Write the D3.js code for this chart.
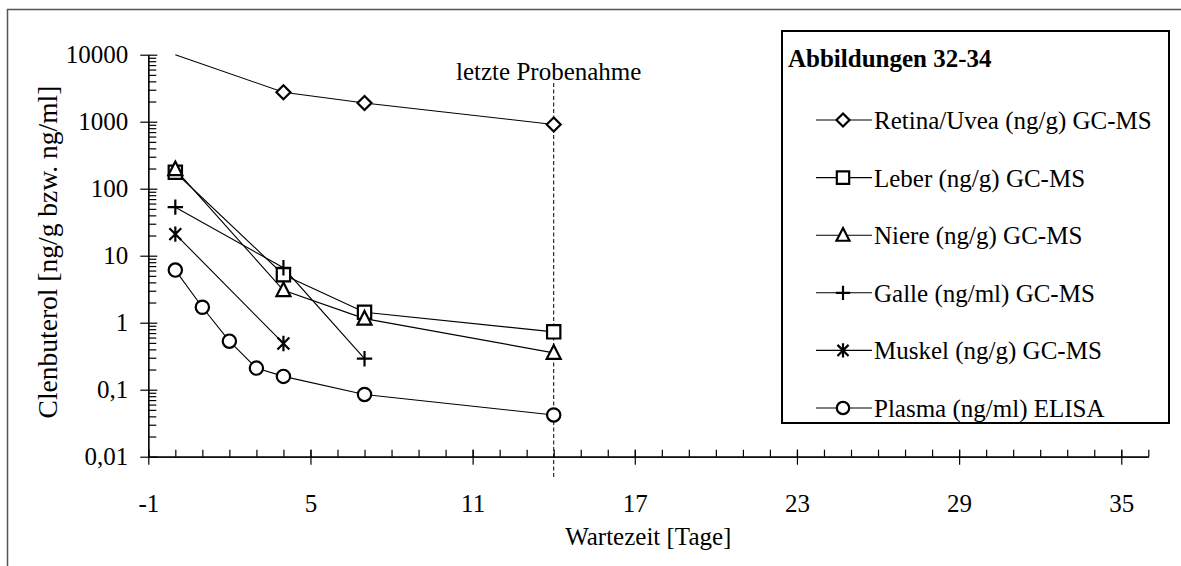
<!DOCTYPE html>
<html>
<head>
<meta charset="utf-8">
<script src="https://cdn.jsdelivr.net/npm/d3@7/dist/d3.min.js"></script>
<style>
  html, body { margin: 0; padding: 0; background: #fff; }
  svg { display: block; }
  text { font-family: "Liberation Serif", "Times New Roman", serif; fill: #000; }
</style>
</head>
<body>
<svg id="chart" width="1181" height="566"></svg>
<script>
// ---- data ----
const seriesNames = [
  "Retina/Uvea (ng/g) GC-MS",
  "Leber (ng/g) GC-MS",
  "Niere (ng/g) GC-MS",
  "Galle (ng/ml) GC-MS",
  "Muskel (ng/g) GC-MS",
  "Plasma (ng/ml) ELISA"
];
const seriesSymbols = ["diamond", "square", "triangle", "plus", "asterisk", "circle"];

const retinaDays = [0, 4, 7, 14];
const retinaValues = [10000, 2750, 1900, 910];
const leberDays = [0, 4, 7, 14];
const leberValues = [176, 5.2, 1.43, 0.73];
const niereDays = [0, 4, 7, 14];
const niereValues = [195, 3.05, 1.15, 0.355];
const galleDays = [0, 4, 7];
const galleValues = [53, 6.6, 0.29];
const muskelDays = [0, 4];
const muskelValues = [21, 0.49];
const plasmaDays = [0, 1, 2, 3, 4, 7, 14];
const plasmaValues = [6.1, 1.7, 0.53, 0.21, 0.158, 0.085, 0.042];

const xTickValues = [-1, 5, 11, 17, 23, 29, 35];
const xTickLabels = ["-1", "5", "11", "17", "23", "29", "35"];
const yTickValues = [0.01, 0.1, 1, 10, 100, 1000, 10000];
const yTickLabels = ["0,01", "0,1", "1", "10", "100", "1000", "10000"];
const lastSampleDay = 14;
const lastSampleLabel = "letzte Probenahme";
const legendTitle = "Abbildungen 32-34";
const xTitle = "Wartezeit [Tage]";
const yTitle = "Clenbuterol [ng/g bzw. ng/ml]";

const series = [
  { days: retinaDays, values: retinaValues },
  { days: leberDays, values: leberValues },
  { days: niereDays, values: niereValues },
  { days: galleDays, values: galleValues },
  { days: muskelDays, values: muskelValues },
  { days: plasmaDays, values: plasmaValues }
].map((s, i) => ({ name: seriesNames[i], symbol: seriesSymbols[i],
  points: s.days.map((d, j) => ({ x: d, y: s.values[j] })) }));

// ---- layout ----
const svg = d3.select("#chart");
const FS = 25;
const x = d3.scaleLinear().domain([-1, 36]).range([148.3, 1148.3]);
const y = d3.scaleLog().domain([0.01, 10000]).range([456.7, 54.7]);

// outer frame (partly cropped)
svg.append("rect").attr("x", 7.5).attr("y", 9.5).attr("width", 1200).attr("height", 600)
  .attr("fill", "none").attr("stroke", "#555").attr("stroke-width", 1.5);

// marker shapes
function markerPath(type, s) {
  const p = d3.path();
  if (type === "diamond") { p.moveTo(0, -s); p.lineTo(s, 0); p.lineTo(0, s); p.lineTo(-s, 0); p.closePath(); }
  else if (type === "square") { p.rect(-s * 0.95, -s * 0.95, s * 1.9, s * 1.9); }
  else if (type === "triangle") { p.moveTo(0, -s * 1.1); p.lineTo(s, s * 0.85); p.lineTo(-s, s * 0.85); p.closePath(); }
  else if (type === "plus") { p.moveTo(-s * 1.1, 0); p.lineTo(s * 1.1, 0); p.moveTo(0, -s * 1.1); p.lineTo(0, s * 1.1); }
  else if (type === "asterisk") { const a = s * 0.85; p.moveTo(-a, -a); p.lineTo(a, a); p.moveTo(a, -a); p.lineTo(-a, a); p.moveTo(0, -s * 1.1); p.lineTo(0, s * 1.1); }
  else if (type === "circle") { p.moveTo(s * 0.95, 0); p.arc(0, 0, s * 0.95, 0, 2 * Math.PI); }
  return p.toString();
}
const MS = 7;

// axes: x
const xMinor = d3.range(-1, 37, 1);
svg.append("g").attr("transform", `translate(0,${y(0.01)})`)
  .call(d3.axisTop(x).tickValues(xMinor).tickSize(7).tickSizeOuter(0).tickFormat(""));
const gx = svg.append("g").attr("transform", `translate(0,${y(0.01)})`)
  .call(d3.axisBottom(x).tickValues(xTickValues).tickSize(8).tickSizeOuter(0).tickPadding(30)
    .tickFormat((d, i) => xTickLabels[i]));
gx.selectAll(".tick line").attr("y1", -7).attr("y2", 8);
gx.selectAll(".tick text").attr("font-size", FS).attr("font-family", "Liberation Serif, serif").attr("fill", "#000");

// axes: y
const yMinor = [];
for (let e = -2; e < 4; e++) for (let m = 2; m <= 9; m++) yMinor.push(m * Math.pow(10, e));
svg.append("g").attr("transform", `translate(${x(-1)},0)`)
  .call(d3.axisRight(y).tickValues(yMinor).tickSize(8).tickSizeOuter(0).tickFormat(""));
const gy = svg.append("g").attr("transform", `translate(${x(-1)},0)`)
  .call(d3.axisLeft(y).tickValues(yTickValues).tickSize(8).tickSizeOuter(0).tickPadding(12)
    .tickFormat((d, i) => yTickLabels[i]));
gy.selectAll(".tick line").attr("x1", -8).attr("x2", 9);
gy.selectAll(".tick text").attr("font-size", FS).attr("font-family", "Liberation Serif, serif").attr("fill", "#000");
svg.selectAll(".domain, .tick line").attr("stroke", "#000").attr("stroke-width", 1.2);

// axis titles
svg.append("text").attr("x", x(17.5)).attr("y", 545).attr("text-anchor", "middle")
  .attr("font-size", FS).text(xTitle);
svg.append("text").attr("transform", `translate(57,252) rotate(-90)`).attr("text-anchor", "middle")
  .attr("font-size", 27.5).text(yTitle);

// last sampling line
svg.append("line").attr("x1", x(lastSampleDay)).attr("x2", x(lastSampleDay))
  .attr("y1", 83).attr("y2", 479).attr("stroke", "#000").attr("stroke-width", 1)
  .attr("stroke-dasharray", "4,2.5");
svg.append("text").attr("x", x(lastSampleDay) - 5).attr("y", 80).attr("text-anchor", "middle")
  .attr("font-size", FS).text(lastSampleLabel);

// series lines and markers
const line = d3.line().x(d => x(d.x)).y(d => y(d.y));
series.forEach(s => {
  svg.append("path").attr("d", line(s.points)).attr("fill", "none")
    .attr("stroke", "#000").attr("stroke-width", 1.1);
});
series.forEach(s => {
  svg.selectAll(null).data(s.points.filter(p => p.y < y.domain()[1])).enter()
    .append("path").attr("transform", d => `translate(${x(d.x)},${y(d.y)})`)
    .attr("d", markerPath(s.symbol, MS))
    .attr("fill", s.symbol === "plus" || s.symbol === "asterisk" ? "none" : "#fff")
    .attr("stroke", "#000").attr("stroke-width", 2.2);
});

// legend
const lg = svg.append("g");
lg.append("rect").attr("x", 782).attr("y", 31).attr("width", 387).attr("height", 392)
  .attr("fill", "#fff").attr("stroke", "#000").attr("stroke-width", 2);
lg.append("text").attr("x", 788).attr("y", 67).attr("font-size", FS).attr("font-weight", "bold").text(legendTitle);
const rowY = d3.scaleLinear().domain([0, 5]).range([120, 408]);
series.forEach((s, i) => {
  const cy = rowY(i);
  lg.append("line").attr("x1", 816).attr("x2", 872).attr("y1", cy).attr("y2", cy)
    .attr("stroke", "#000").attr("stroke-width", 1.1);
  lg.append("path").attr("transform", `translate(843,${cy})`).attr("d", markerPath(s.symbol, 6.5))
    .attr("fill", s.symbol === "plus" || s.symbol === "asterisk" ? "none" : "#fff")
    .attr("stroke", "#000").attr("stroke-width", 2.2);
  lg.append("text").attr("x", 874).attr("y", cy + 9).attr("font-size", FS).text(s.name);
});
</script>
</body>
</html>
